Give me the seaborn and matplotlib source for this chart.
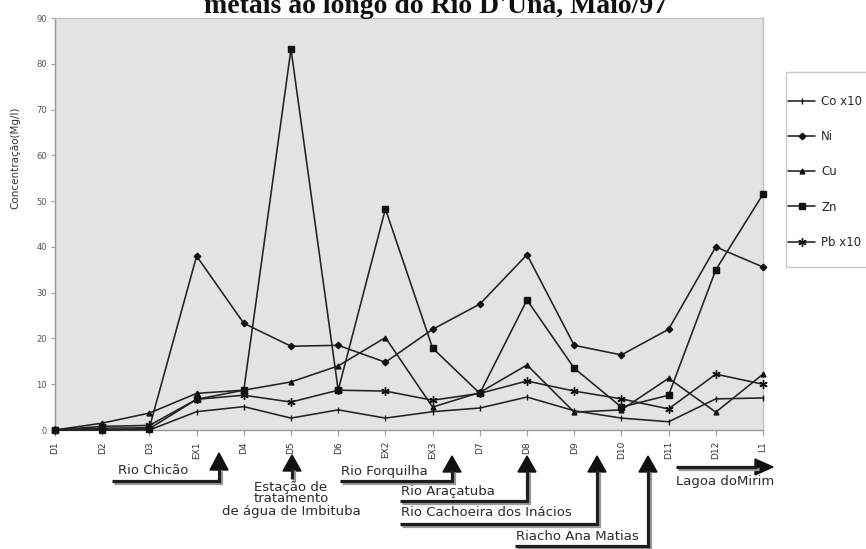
import numpy as np
import pandas as pd
import matplotlib
matplotlib.use("Agg")
import matplotlib.pyplot as plt
import seaborn as sns
from matplotlib.lines import Line2D
from matplotlib.patches import Polygon, Rectangle

# ---------------- data ----------------
categories = ["D1", "D2", "D3", "EX1", "D4", "D5", "D6", "EX2", "EX3",
              "D7", "D8", "D9", "D10", "D11", "D12", "L1"]
co_x10 = [0, 0, 0, 4.0, 5.1, 2.6, 4.4, 2.6, 4.0, 4.8, 7.2, 4.2, 2.6, 1.8, 6.8, 7.0]
ni     = [0, 0.4, 0.5, 38.0, 23.3, 18.3, 18.5, 14.8, 22.0, 27.5, 38.3, 18.5, 16.4, 22.0, 40.0, 35.6]
cu     = [0, 1.5, 3.7, 8.0, 8.7, 10.5, 14.0, 20.2, 5.0, 8.2, 14.2, 3.9, 4.4, 11.3, 3.9, 12.2]
zn     = [0, 0, 0.3, 6.7, 8.7, 83.2, 8.7, 48.3, 17.9, 8.0, 28.4, 13.5, 5.0, 7.6, 35.0, 51.5]
pb_x10 = [0, 0.8, 1.0, 6.7, 7.6, 6.1, 8.7, 8.5, 6.5, 8.0, 10.7, 8.5, 6.8, 4.6, 12.2, 10.0]
series_names = ["Co x10", "Ni", "Cu", "Zn", "Pb x10"]
series_values = [co_x10, ni, cu, zn, pb_x10]
y_ticks = list(range(0, 91, 10))
title = "metais ao longo do Rio D'Una, Maio/97"
ylabel = "Concentração(Mg/l)"

rows = []
for name, vals in zip(series_names, series_values):
    for i, (c, v) in enumerate(zip(categories, vals)):
        rows.append({"Metal": name, "pos": i, "Ponto": c, "value": v})
df = pd.DataFrame(rows)

# ---------------- figure ----------------
W, H = 866, 549
sns.set_theme(style="white")
plt.rcParams["font.family"] = ["DejaVu Sans"]

fig = plt.figure(figsize=(W / 100, H / 100), dpi=100)
ax = fig.add_axes([55 / W, 1 - 430 / H, (763 - 55) / W, (430 - 18) / H])
ax.set_facecolor("#e3e3e3")

markers = {"Co x10": "|", "Ni": "D", "Cu": "^", "Zn": "s", "Pb x10": (6, 2, 0)}
msizes = {"Co x10": 5, "Ni": 3.3, "Cu": 3.5, "Zn": 4.3, "Pb x10": 6}
for name in series_names:
    sub = df[df["Metal"] == name]
    sns.lineplot(data=sub, x="pos", y="value", ax=ax, sort=False,
                 color="#222222", linewidth=1.15, marker=markers[name],
                 markersize=msizes[name], markerfacecolor="#111111",
                 markeredgecolor="#111111", markeredgewidth=1.0,
                 label=name, clip_on=False, zorder=3)

ax.set_xlim(0, len(categories) - 1)
ax.set_ylim(0, 90)
ax.set_xticks(range(len(categories)))
ax.set_xticklabels(categories, rotation=90, fontsize=6.5, color="#333333")
ax.set_yticks(y_ticks)
ax.set_yticklabels([str(t) for t in y_ticks], fontsize=6, color="#555555")
ax.tick_params(axis="x", bottom=True, length=4, width=0.8, color="#a0a0a0", pad=4)
ax.tick_params(axis="y", left=True, length=3, width=0.8, color="#a0a0a0", pad=3)
ax.set_xlabel("")
ax.set_ylabel("")
for s in ax.spines.values():
    s.set_color("#c0c0c0")
    s.set_linewidth(1.0)
ax.spines["left"].set_color("#999999")
ax.spines["bottom"].set_color("#999999")

# y label
fig.text(15 / W, 1 - 158 / H, ylabel, rotation=90, ha="center", va="center",
         fontsize=7.5, color="#333333")

# title (its top is cut by the image edge, as in the reference)
fig.text(436 / W, 1 - 13 / H, title, ha="center", va="baseline",
         fontfamily="Liberation Serif", fontweight="bold", fontsize=20, color="#111111")

# legend
handles, labels = ax.get_legend_handles_labels()
if ax.get_legend() is not None:
    ax.get_legend().remove()
fig.legend(handles, labels, loc="upper left", bbox_to_anchor=(788 / W, 1 - 95 / H),
           frameon=False, fontsize=8.5, labelspacing=1.88, handlelength=2.3,
           handletextpad=0.5, borderpad=0, borderaxespad=0)
fig.add_artist(Rectangle((786 / W, 1 - 267 / H), 100 / W, (267 - 72) / H,
                         transform=fig.transFigure, fill=False,
                         edgecolor="#c8c8c8", linewidth=1.0))

# ---------------- annotations ----------------
def P(x, y):
    return (x / W, 1 - y / H)

def bar(points):
    xs = [p[0] / W for p in points]
    ys = [1 - p[1] / H for p in points]
    fig.add_artist(Line2D([x + 1.5 / W for x in xs], [y - 1.5 / H for y in ys],
                          color="#9a9a9a", lw=2.3, solid_joinstyle="miter",
                          solid_capstyle="butt"))
    fig.add_artist(Line2D(xs, ys, color="#1e1e1e", lw=2.3,
                          solid_joinstyle="miter", solid_capstyle="butt"))

def head_up(x, tip_y, base_y, half=9):
    fig.add_artist(Polygon([P(x - half, base_y), P(x + half, base_y), P(x, tip_y)],
                           closed=True, transform=fig.transFigure,
                           facecolor="#111111", edgecolor="#111111"))

def head_right(tip_x, y, base_x, half=8):
    fig.add_artist(Polygon([P(base_x, y - half), P(base_x, y + half), P(tip_x, y)],
                           closed=True, transform=fig.transFigure,
                           facecolor="#111111", edgecolor="#111111"))

def label(x, y, s, ha="left"):
    fig.text(x / W, 1 - y / H, s, ha=ha, va="center", fontsize=9.5, color="#2a2a2a")

# Rio Chicão
bar([(112, 481), (219, 481), (219, 468)])
head_up(219, 453, 470)
label(118, 471, "Rio Chicão")
# Estação de tratamento
bar([(292, 479), (292, 468)])
head_up(292, 455, 471)
label(291, 487, "Estação de", ha="center")
label(291, 499, "tratamento", ha="center")
label(291, 512, "de água de Imbituba", ha="center")
# Rio Forquilha
bar([(340, 481), (452, 481), (452, 470)])
head_up(452, 456, 472)
label(341, 471, "Rio Forquilha")
# Rio Araçatuba
bar([(400, 501), (527, 501), (527, 470)])
head_up(527, 456, 472)
label(401, 491, "Rio Araçatuba")
# Rio Cachoeira dos Inácios
bar([(400, 524), (597, 524), (597, 470)])
head_up(597, 456, 472)
label(401, 513, "Rio Cachoeira dos Inácios")
# Riacho Ana Matias
bar([(515, 546), (648, 546), (648, 470)])
head_up(648, 456, 472)
label(516, 536, "Riacho Ana Matias")
# Lagoa do Mirim
bar([(676, 467), (757, 467)])
head_right(773, 467, 755)
label(676, 481, "Lagoa doMirim")

fig.savefig("out.png", dpi=100)
